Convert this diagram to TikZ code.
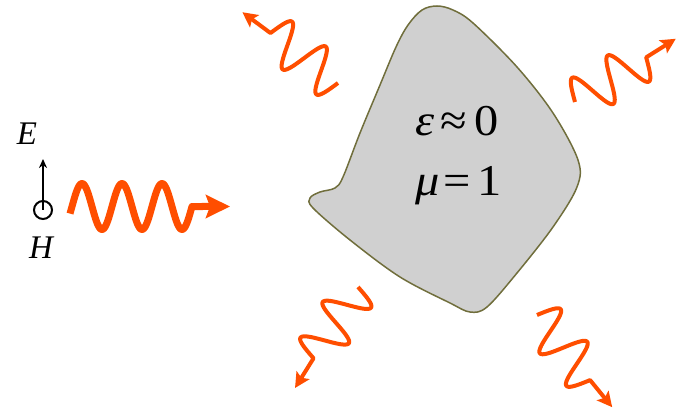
\documentclass[tikz,border=0pt]{standalone}
\usepackage{fontspec}
\setmainfont{Liberation Serif}
\usetikzlibrary{arrows.meta}
\definecolor{waveorange}{RGB}{255,78,0}
\definecolor{blobfill}{RGB}{208,208,208}
\definecolor{blobline}{RGB}{112,110,60}
\tikzset{
  thinwave/.style={draw=waveorange, line width=4pt, line join=round,
    -{Stealth[length=15pt,width=15pt,inset=3pt]}},
  thickwave/.style={draw=waveorange, line width=7pt, line join=round,
    -{Stealth[length=24pt,width=23pt,inset=4pt]}},
  lbl/.style={font=\fontsize{33}{36}\selectfont\itshape, inner sep=0pt},
  mat/.style={font=\fontsize{44}{48}\selectfont, inner sep=0pt, anchor=base, xscale=1.1}
}
\newcommand\scatwave[3]{%
  \begin{scope}[shift={(#1,#2)}, rotate=#3]
    \draw[thinwave] plot[domain=0:84, samples=90, smooth] (\x, {-22*sin(8.5714*\x)}) -- (119,0);
  \end{scope}}
\begin{document}
\begin{tikzpicture}[x=1pt,y=-1pt]
\useasboundingbox (0,0) rectangle (681,409);
% blob
\path[fill=blobfill, draw=blobline, line width=1.5pt]
  plot[smooth cycle, tension=0.55] coordinates {
  (437,6) (422,10) (408,25) (396,47) (380,85) (360,133) (343,177) (335,188)
  (320,192) (310,198) (313,208) (350,240) (400,277) (450,303) (470,312)
  (487,307) (517,273) (553,227) (577,187) (578,160) (553,113) (517,67)
  (473,23) (453,10)};
\node[mat] (eps) at (457.5,136) {{\itshape ε}\kern5pt≈\kern7pt0};
\node[mat] (mu) at (458.5,196) {{\itshape μ}\kern4pt=\kern6pt1};
% incident wave
\begin{scope}[shift={(72,206.5)}]
  \draw[thickwave] plot[domain=-2:120, samples=120, smooth] (\x, {-23*sin(9*\x)}) -- (158,0);
\end{scope}
% scattered waves
\scatwave{338}{83}{143.5}
\scatwave{575}{102}{32.1}
\scatwave{358}{287}{-121.95}
\scatwave{537}{315}{-50.8}
% E-H symbol
\node[circle, draw=black, line width=2pt, minimum size=18pt, inner sep=0pt] (hcirc) at (43,210) {};
\coordinate (etip) at (43,159);
\draw[line width=2pt, -{Stealth[length=9pt,width=8pt]}] (hcirc.center) -- (etip);
\node[lbl] (E) at (27,134) {E};
\node[lbl] (H) at (41,248) {H};
\end{tikzpicture}
\end{document}
